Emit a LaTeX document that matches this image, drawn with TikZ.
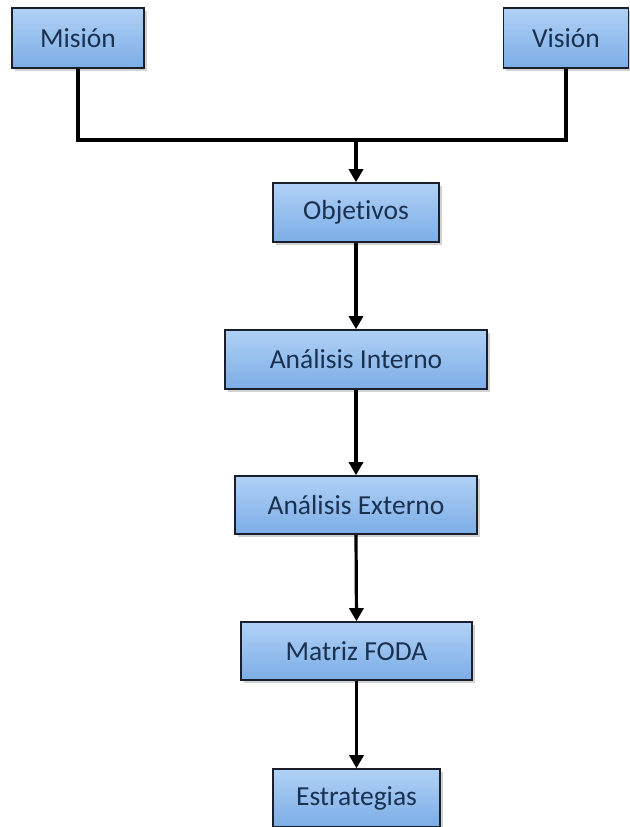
\documentclass[tikz,border=0pt]{standalone}
\usepackage{fontspec}
\setmainfont{Carlito}[Ligatures={NoCommon}]
\usetikzlibrary{arrows.meta,shadows}
\definecolor{boxtop}{HTML}{B0D1F6}
\definecolor{boxbot}{HTML}{7CADE6}
\definecolor{boxtext}{HTML}{1A3150}
\definecolor{boxline}{HTML}{1A1F2B}
\tikzset{
  box/.style={draw=boxline, line width=1.6pt, rectangle, top color=boxtop, bottom color=boxbot,
    text=boxtext, font=\fontsize{27.5}{30}\selectfont, inner sep=0pt,
    drop shadow={shadow xshift=2.5pt, shadow yshift=-2.5pt, fill=black!35, opacity=0.5}},
  conn/.style={line width=3.2pt, draw=black},
  arr/.style={conn, -{Triangle[width=14pt,length=13pt]}}
}
\begin{document}
\begin{tikzpicture}[x=1pt,y=-1pt]
\useasboundingbox[fill=white] (0,0) rectangle (629,827);
\node[box, minimum width=132pt, minimum height=60pt] (mision) at (78,38) {Misión};
\node[box, minimum width=125pt, minimum height=60pt] (vision) at (566,38) {Visión};
\node[box, minimum width=166pt, minimum height=59pt] (obj) at (356,212.5) {Objetivos};
\node[box, minimum width=262pt, minimum height=59pt] (int) at (356,359.5) {Análisis Interno};
\node[box, minimum width=242pt, minimum height=58pt] (ext) at (356,505) {Análisis Externo};
\node[box, minimum width=231pt, minimum height=58pt] (foda) at (356.5,651) {Matriz FODA};
\node[box, minimum width=167pt, minimum height=58pt] (estr) at (356.5,798) {Estrategias};
\coordinate (j) at (356,140);
\draw[conn] (mision.south) |- (j) -| (vision.south);
\draw[arr] (j) -- (obj.north);
\draw[arr] (obj.south) -- (int.north);
\draw[arr] (int.south) -- (ext.north);
\draw[arr] (ext.south) -- (foda.north);
\draw[arr] (foda.south) -- (estr.north);
\end{tikzpicture}
\end{document}
